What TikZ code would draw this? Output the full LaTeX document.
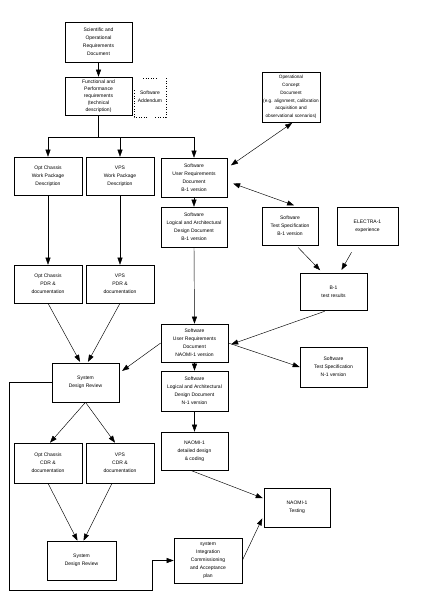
\documentclass[tikz,border=0pt]{standalone}
\usepackage{fontspec}
\setmainfont{Liberation Sans}
\usetikzlibrary{arrows.meta,calc}
\begin{document}
\begin{tikzpicture}[x=1pt,y=-1pt,
  box/.style={draw, line width=0.6pt, align=center, inner sep=0pt,
    font=\fontsize{5}{8}\selectfont, minimum width=67pt, minimum height=39pt},
  plain/.style={align=center, inner sep=0pt, font=\fontsize{5}{8}\selectfont},
  arr/.style={line width=0.45pt, -{Triangle[length=7pt,width=5pt]}},
  darr/.style={line width=0.45pt, {Triangle[length=7pt,width=5pt]}-{Triangle[length=7pt,width=5pt]}},
  ln/.style={line width=0.45pt},
  dots/.style={dotted, line width=0.6pt}]
\useasboundingbox (0,0) rectangle (425,608);
\fill[white] (0,0) rectangle (425,608);

\node[box, minimum height=40pt] (SORD) at (98.5,42) {Scientific and\\Operational\\Requirements\\Document};
\node[box, minimum height=38pt, font=\fontsize{5}{7}\selectfont] (FPR) at (98.5,96) {Functional and\\Performance\\requirements\\(technical\\description)};
\node[plain] (SA) at (150,97) {Software\\Addendum};
\draw[dots] (143,78) -- (157,78);
\draw[dots] (166,78) -- (166,117) -- (155,117);
\draw[dots] (147,117) -- (134,117) -- (134,90);
\node[box, minimum width=58pt, minimum height=50pt, font=\fontsize{4.7}{7.8}\selectfont] (OCD) at (291,97) {Operational\\Concept\\Document\\(e.g. alignment, calibration\\acquisition and\\observational scenarios)};

\node[box, minimum width=68pt, minimum height=38pt] (OCWPD) at (48,176) {Opt Chassis\\Work Package\\Description};
\node[box, minimum width=68pt, minimum height=38pt] (VPSWPD) at (120,176) {VPS\\Work Package\\Description};
\node[box, minimum width=66pt] (SURDB) at (194,177.5) {Software\\User Requirements\\Document\\B-1 version};
\node[box, minimum width=66pt, minimum height=40pt] (SLADDB) at (194,227) {Software\\Logical and Architectural\\Design Document\\B-1 version};
\node[box, minimum width=56pt, minimum height=38pt] (TSB) at (290,226) {Software\\Test Specification\\B-1 version};
\node[box, minimum width=61pt, minimum height=38pt] (ELE) at (367.5,226) {ELECTRA-1\\experience};
\node[box, minimum height=37pt] (B1TR) at (333.5,291.5) {B-1\\test results};

\node[box, minimum width=68pt, minimum height=38pt] (OCPDR) at (48,284) {Opt Chassis\\PDR \&\\documentation};
\node[box, minimum width=68pt, minimum height=38pt] (VPSPDR) at (120,284) {VPS\\PDR \&\\documentation};
\node[box, minimum height=38pt] (SURDN) at (194.5,343) {Software\\User Requirements\\Document\\NAOMI-1 version};
\node[box, minimum height=40pt] (SLADDN) at (194.5,391) {Software\\Logical and Architectural\\Design Document\\N-1 version};
\node[box, minimum height=40pt] (TSN) at (333.5,367) {Software\\Test Specification\\N-1 version};
\node[box] (SDR1) at (85.5,382.5) {System\\Design Review};
\node[box, minimum height=38pt] (NDD) at (194.5,451) {NAOMI-1\\detailed design\\\& coding};
\node[box, minimum width=68pt, minimum height=40pt] (OCCDR) at (48,463) {Opt Chassis\\CDR \&\\documentation};
\node[box, minimum width=68pt, minimum height=40pt] (VPSCDR) at (120,463) {VPS\\CDR \&\\documentation};
\node[box, minimum width=69pt] (SDR2) at (81.5,560.5) {System\\Design Review};
\node[box, minimum width=68pt, minimum height=45pt] (SICAP) at (208,560.5) {system\\Integration\\Commissioning\\and Acceptance\\plan};
\node[box, minimum width=66pt] (NT) at (297,507.5) {NAOMI-1\\Testing};

% connectors
\draw[arr] (SORD.south) -- (FPR.north);
\coordinate (bus) at (98.5,137);
\draw[ln] (FPR.south) -- (bus);
\draw[ln] (OCWPD.north |- bus) -- (SURDB.north |- bus);
\draw[arr] (OCWPD.north |- bus) -- (OCWPD.north);
\draw[arr] (VPSWPD.north |- bus) -- (VPSWPD.north);
\draw[arr] (SURDB.north |- bus) -- (SURDB.north);
\draw[arr] (OCWPD.south) -- (OCPDR.north);
\draw[arr] (VPSWPD.south) -- (VPSPDR.north);

\draw[darr, shorten <=2pt, shorten >=1pt] ($(SURDB.east)+(2,-11)$) -- ($(OCD.south)+(2,0)$);
\draw[darr, shorten <=3pt, shorten >=1pt] ($(SURDB.east)+(3,5)$) -- ($(TSB.north)+(5,-1)$);
\draw[arr] (SURDB.south) -- (SLADDB.north);
\draw[arr] (SLADDB.south) -- (SURDN.north);
\draw[arr, shorten <=3pt, shorten >=2pt] ($(TSB.south)+(6,0)$) -- ($(B1TR.north)+(-12,-1)$);
\draw[arr, shorten <=8pt, shorten >=2pt] ($(ELE.south)+(-12,0)$) -- ($(B1TR.north)+(7,-1)$);
\draw[arr, shorten <=3pt, shorten >=2pt] ($(B1TR.south)+(-6,0)$) -- ($(SURDN.east)+(1,2)$);
\draw[arr] (SURDN.east) -- (TSN.west);
\draw[arr] (SURDN.south) -- (SLADDN.north);
\draw[arr, shorten >=1pt] (SURDN.west) -- ($(SDR1.east)+(2,-11)$);
\draw[arr, shorten >=1pt] (OCPDR.south) -- ($(SDR1.north)+(-5,0)$);
\draw[arr, shorten >=1pt] (VPSPDR.south) -- ($(SDR1.north)+(2,0)$);
\draw[arr, shorten <=1pt] (SLADDN.south) -- (NDD.north);
\draw[arr, shorten <=1pt, shorten >=1pt] ($(NDD.south)+(-4,0)$) -- ($(NT.west)+(0,-9)$);
\draw[arr] (SDR1.south) -- ($(OCCDR.north)+(2,0)$);
\draw[arr] (SDR1.south) -- ($(VPSCDR.north)+(-5,0)$);
\draw[arr] (OCCDR.south) -- ($(SDR2.north)+(-4,0)$);
\draw[arr] ($(VPSCDR.south)+(-8,0)$) -- ($(SDR2.north)+(2,0)$);
\coordinate (loopA) at (9,590);
\coordinate (loopB) at (152,590);
\draw[arr] (SDR1.west) -| (loopA) -- (loopB) |- (SICAP.west);
\draw[arr, shorten >=1pt] (SICAP.east) -- ($(NT.west)+(-1,10)$);
\end{tikzpicture}
\end{document}
